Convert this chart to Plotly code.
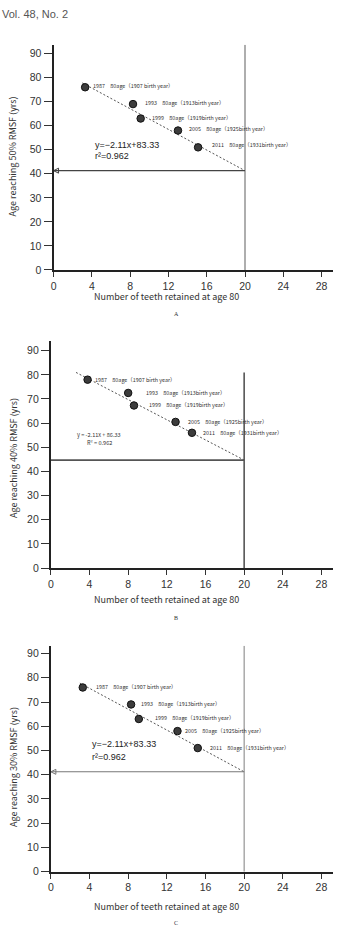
import plotly.graph_objects as go

# ---------------- data ----------------
years = ["1987", "1993", "1999", "2005", "2011"]
birth_labels = ["1907 birth year", "1913birth year", "1919birth year",
                "1925birth year", "1931birth year"]

teeth_A = [3.3, 8.3, 9.1, 13.0, 15.1]
age_A = [76.0, 69.0, 63.0, 58.0, 51.0]
teeth_B = [3.8, 8.0, 8.6, 12.9, 14.6]
age_B = [78.0, 72.5, 67.3, 60.5, 56.0]
teeth_C = [3.3, 8.3, 9.1, 13.1, 15.2]
age_C = [76.0, 69.0, 63.0, 58.0, 51.0]

trend_x_A = [3.0, 20.0]
trend_y_A = [77.8, 41.3]
trend_x_B = [2.6, 20.0]
trend_y_B = [81.0, 44.7]
trend_x_C = [3.0, 20.0]
trend_y_C = [77.8, 41.2]

target_teeth = 20
vline_top = {"A": 93.7, "B": 81.0, "C": 93.2}
cross_age = {"A": 41.3, "B": 44.7, "C": 41.2}

eq_A = ["y=\u22122.11x+83.33", "r\u00b2=0.962"]
eq_B = ["y = -2.11x + 86.33", "R\u00b2 = 0.962"]
eq_C = ["y=\u22122.11x+83.33", "r\u00b2=0.962"]

y_titles = ["Age reaching 50% RMSF (yrs)", "Age reaching 40% RMSF (yrs)",
            "Age reaching 30% RMSF (yrs)"]
x_title = "Number of teeth retained at age 80"
panel_letters = ["A", "B", "C"]
x_ticks = [0, 4, 8, 12, 16, 20, 24, 28]
y_ticks = [0, 10, 20, 30, 40, 50, 60, 70, 80, 90]

# ---------------- layout helpers ----------------
W, H = 340, 930
def px(x):
    return x / W
def py(y):
    return 1 - y / H

panels = [
    dict(name="A", tx=teeth_A, ay=age_A, trx=trend_x_A, try_=trend_y_A, eq=eq_A,
         xdom=[px(51), px(333)], ydom=[py(271.7), py(45)], yr=93.7,
         vcol="#9a9a9a", vw=1.6, hcol="#444", hw=1.1, arrow=True,
         lab_dx=[6, 10, 9, 9, 12], lab_dy=[1, 1, 1, 2, 2],
         eq_pos=(4.1, 52.1, 47.5), eq_size=9, eq_font="Liberation Sans", eq_lead=True,
         ytitle_y=157.5, xtitle_y=298, letter_y=316),
    dict(name="B", tx=teeth_B, ay=age_B, trx=trend_x_B, try_=trend_y_B, eq=eq_B,
         xdom=[px(48.3), px(333)], ydom=[py(571.7), py(343)], yr=94.1,
         vcol="#555", vw=1.6, hcol="#555", hw=1.6, arrow=False,
         lab_dx=[5, 16, 13, 10, 9], lab_dy=[0, 0, 0, 0, 0],
         eq_pos=(5.0, 54.9, 51.8), eq_size=5.6, eq_font="Noto Sans CJK JP", eq_lead=False,
         ytitle_y=461, xtitle_y=603, letter_y=622),
    dict(name="C", tx=teeth_C, ay=age_C, trx=trend_x_C, try_=trend_y_C, eq=eq_C,
         xdom=[px(48.3), px(333)], ydom=[py(877.3), py(650)], yr=93.2,
         vcol="#8a8a8a", vw=1.1, hcol="#777", hw=1.1, arrow=True,
         lab_dx=[11, 8, 14, 6, 10], lab_dy=[0, 0, 1, 0, 0],
         eq_pos=(4.0, 52.5, 47.4), eq_size=9, eq_font="Liberation Sans", eq_lead=True,
         ytitle_y=772, xtitle_y=912, letter_y=929),
]

fig = go.Figure()
annotations = []
layout_axes = {}

for i, p in enumerate(panels):
    n = "" if i == 0 else str(i + 1)
    xa, ya = "x" + n, "y" + n
    # trend line
    fig.add_trace(go.Scatter(x=p["trx"], y=p["try_"], mode="lines", xaxis=xa, yaxis=ya,
                             line=dict(color="#555", width=1, dash="2px,2px"),
                             showlegend=False, hoverinfo="skip"))
    # vertical line at 20 teeth
    fig.add_trace(go.Scatter(x=[target_teeth, target_teeth], y=[0, vline_top[p["name"]]],
                             mode="lines", xaxis=xa, yaxis=ya,
                             line=dict(color=p["vcol"], width=p["vw"]),
                             showlegend=False, hoverinfo="skip"))
    # horizontal line to y axis
    fig.add_trace(go.Scatter(x=[0, target_teeth], y=[cross_age[p["name"]]] * 2,
                             mode="lines", xaxis=xa, yaxis=ya,
                             line=dict(color=p["hcol"], width=p["hw"]),
                             showlegend=False, hoverinfo="skip"))
    if p["arrow"]:
        fig.add_trace(go.Scatter(x=[0], y=[cross_age[p["name"]]], mode="markers",
                                 xaxis=xa, yaxis=ya, cliponaxis=False,
                                 marker=dict(symbol="arrow-left-open", size=5, color=p["hcol"],
                                             line=dict(color=p["hcol"], width=1)),
                                 showlegend=False, hoverinfo="skip"))
    # points
    fig.add_trace(go.Scatter(x=p["tx"], y=p["ay"], mode="markers", xaxis=xa, yaxis=ya,
                             marker=dict(size=7.5, color="#3c3c3c",
                                         line=dict(color="#111", width=1)),
                             showlegend=False))
    # point labels
    for k in range(len(years)):
        annotations.append(dict(x=p["tx"][k], y=p["ay"][k], xref=xa, yref=ya,
                                text=years[k] + "\u3000" + "80age\uff08" + birth_labels[k] + "\uff09",
                                showarrow=False, xanchor="left", yanchor="middle",
                                xshift=p["lab_dx"][k], yshift=p["lab_dy"][k],
                                font=dict(family="Noto Sans CJK JP", size=5.4, color="#333")))
    # equation
    ex, ey1, ey2 = p["eq_pos"]
    anchor = "left" if p["eq_lead"] else "center"
    col = "#222" if p["eq_lead"] else "#333"
    for txt, ey in ((p["eq"][0], ey1), (p["eq"][1], ey2)):
        annotations.append(dict(x=ex, y=ey, xref=xa, yref=ya, text=txt, showarrow=False,
                                xanchor=anchor, yanchor="middle",
                                font=dict(family=p["eq_font"], size=p["eq_size"], color=col)))
    # axes
    layout_axes["xaxis" + n] = dict(domain=p["xdom"], anchor=ya, range=[0, 29.2],
                                    tickmode="array", tickvals=x_ticks,
                                    showline=True, linewidth=2, linecolor="#222",
                                    ticks="outside", ticklen=5, tickwidth=1.3, tickcolor="#333",
                                    showgrid=False, zeroline=False,
                                    tickfont=dict(family="Liberation Sans", size=10.5, color="#333"))
    layout_axes["yaxis" + n] = dict(domain=p["ydom"], anchor=xa, range=[0, p["yr"]],
                                    tickmode="array", tickvals=y_ticks,
                                    showline=True, linewidth=2, linecolor="#222",
                                    ticks="outside", ticklen=8, tickwidth=1.3, tickcolor="#333",
                                    showgrid=False, zeroline=False,
                                    tickfont=dict(family="Liberation Sans", size=10.5, color="#333"))
    # titles
    annotations.append(dict(x=px(10), y=py(p["ytitle_y"]), xref="paper", yref="paper",
                            text=y_titles[i], textangle=-90, showarrow=False,
                            xanchor="center", yanchor="middle",
                            font=dict(family="Noto Sans CJK JP", size=9, color="#333")))
    annotations.append(dict(x=px(165), y=py(p["xtitle_y"]), xref="paper", yref="paper",
                            text=x_title, showarrow=False, xanchor="center", yanchor="middle",
                            font=dict(family="Noto Sans CJK JP", size=9, color="#333")))
    annotations.append(dict(x=px(175), y=py(p["letter_y"]), xref="paper", yref="paper",
                            text=panel_letters[i], showarrow=False, xanchor="center", yanchor="middle",
                            font=dict(family="Liberation Serif", size=6, color="#333")))

annotations.append(dict(x=px(-3), y=py(14), xref="paper", yref="paper", text="Vol. 48, No. 2",
                        showarrow=False, xanchor="left", yanchor="middle",
                        font=dict(family="Liberation Sans", size=11, color="#555")))

fig.update_layout(width=W, height=H, margin=dict(l=0, r=0, t=0, b=0),
                  paper_bgcolor="white", plot_bgcolor="white",
                  annotations=annotations, showlegend=False, **layout_axes)

fig.write_html("out.html")
